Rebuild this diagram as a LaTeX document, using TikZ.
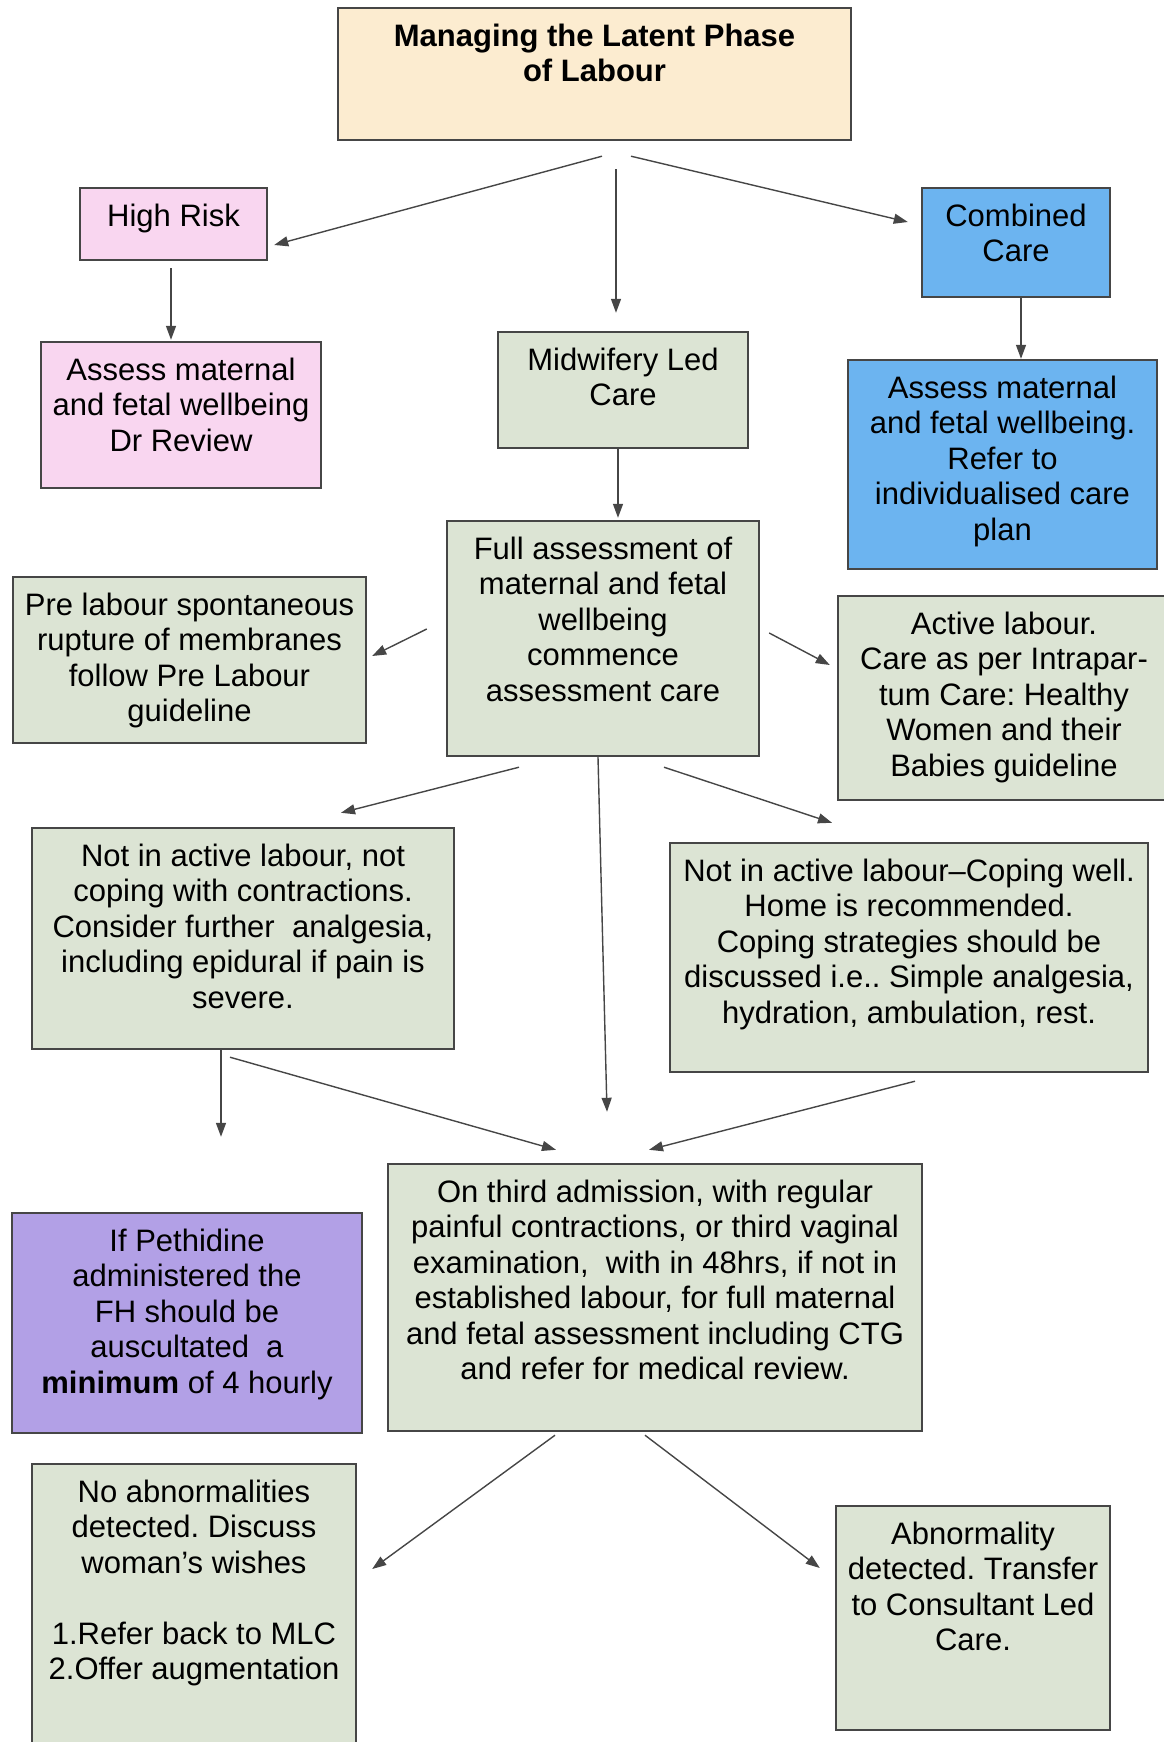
\documentclass[tikz,border=0pt]{standalone}
\usepackage{fontspec}
\setmainfont{Liberation Sans}
\usetikzlibrary{arrows.meta}
\frenchspacing
\definecolor{lppeach}{RGB}{252,236,208}
\definecolor{lppink}{RGB}{249,214,240}
\definecolor{lpblue}{RGB}{108,180,240}
\definecolor{lpgreen}{RGB}{220,228,212}
\definecolor{lppurple}{RGB}{178,160,230}
\definecolor{lpedge}{RGB}{70,70,70}
\tikzset{
  lpbox/.style={draw=lpedge, line width=2.4pt, inner sep=0pt},
  lptitlebox/.style={lpbox, fill=lppeach},
  lppinkbox/.style={lpbox, fill=lppink},
  lpbluebox/.style={lpbox, fill=lpblue},
  lpgreenbox/.style={lpbox, fill=lpgreen},
  lppurplebox/.style={lpbox, fill=lppurple},
  lptext/.style={anchor=north, yshift=-17pt, align=center, inner sep=0pt},
  lpbold/.style={lptext, font=\fontsize{31}{35.5}\selectfont\bfseries},
  lparrow/.style={draw=lpedge, line width=1.4pt, -{Triangle[length=14pt,width=10pt]}},
}
\begin{document}
\begin{tikzpicture}[x=1pt, y=-1pt, font=\fontsize{31}{35.5}\selectfont]
\useasboundingbox (0,0) rectangle (1163,1742);
% boxes, top to bottom
\node[lptitlebox, minimum width=513pt, minimum height=132pt,
  label={[lpbold]north:{Managing the Latent Phase\\of Labour}}] (title) at (594.5,74) {};
\node[lppinkbox, minimum width=187pt, minimum height=72pt,
  label={[lptext]north:{High Risk}}] (risk) at (173.5,224) {};
\node[lpbluebox, minimum width=188pt, minimum height=109pt,
  label={[lptext]north:{Combined\\Care}}] (combined) at (1016,242.5) {};
\node[lppinkbox, minimum width=280pt, minimum height=146pt,
  label={[lptext]north:{Assess maternal\\and fetal wellbeing\\Dr Review}}] (riskassess) at (181,415) {};
\node[lpgreenbox, minimum width=250pt, minimum height=116pt,
  label={[lptext]north:{Midwifery Led\\Care}}] (mlc) at (623,390) {};
\node[lpbluebox, minimum width=309pt, minimum height=209pt,
  label={[lptext]north:{Assess maternal\\and fetal wellbeing.\\Refer to\\individualised care\\plan}}] (combassess) at (1002.5,464.5) {};
\node[lpgreenbox, minimum width=312pt, minimum height=235pt,
  label={[lptext]north:{Full assessment of\\maternal and fetal\\wellbeing\\commence\\assessment care}}] (full) at (603,638.5) {};
\node[lpgreenbox, minimum width=353pt, minimum height=166pt,
  label={[lptext]north:{Pre labour spontaneous\\rupture of membranes\\follow Pre Labour\\guideline}}] (srom) at (189.5,660) {};
\node[lpgreenbox, minimum width=332pt, minimum height=204pt,
  label={[lptext]north:{Active labour.\\Care as per Intrapar-\\tum Care: Healthy\\Women and their\\Babies guideline}}] (active) at (1004,698) {};
\node[lpgreenbox, minimum width=422pt, minimum height=221pt,
  label={[lptext]north:{Not in active labour, not\\coping with contractions.\\Consider further~ analgesia,\\including epidural if pain is\\severe.}}] (notcoping) at (243,938.5) {};
\node[lpgreenbox, minimum width=478pt, minimum height=229pt,
  label={[lptext]north:{Not in active labour--Coping well.\\Home is recommended.\\Coping strategies should be\\discussed i.e.. Simple analgesia,\\hydration, ambulation, rest.}}] (coping) at (909,957.5) {};
\node[lppurplebox, minimum width=350pt, minimum height=220pt,
  label={[lptext]north:{If Pethidine\\administered the\\FH should be\\auscultated~ a\\\textbf{minimum} of 4 hourly}}] (pethidine) at (187,1323) {};
\node[lpgreenbox, minimum width=534pt, minimum height=267pt,
  label={[lptext]north:{On third admission, with regular\\painful contractions, or third vaginal\\examination,~ with in 48hrs, if not in\\established labour, for full maternal\\and fetal assessment including CTG\\and refer for medical review.}}] (third) at (655,1297.5) {};
\node[lpgreenbox, minimum width=324pt, minimum height=288pt,
  label={[lptext]north:{No abnormalities\\detected. Discuss\\woman's wishes\\[35.5pt]1.Refer back to MLC\\2.Offer augmentation}}] (normal) at (194,1608) {};
\node[lpgreenbox, minimum width=274pt, minimum height=224pt,
  label={[lptext]north:{Abnormality\\detected. Transfer\\to Consultant Led\\Care.}}] (abnormal) at (973,1618) {};
% connectors
\draw[lparrow] ([shift={(7.5,15)}]title.south) -- ([shift={(6,21)}]risk.east);
\draw[lparrow] ([shift={(21.5,28)}]title.south) -- ([shift={(-7,-18)}]mlc.north);
\draw[lparrow] ([shift={(36.5,15)}]title.south) -- ([shift={(-13,-20.5)}]combined.west);
\draw[lparrow] ([shift={(-2.5,7)}]risk.south) -- ([shift={(-10,-1)}]riskassess.north);
\draw[lparrow] ([shift={(5,0)}]combined.south) -- ([shift={(18.5,0)}]combassess.north);
\draw[lparrow] ([shift={(-5,0)}]mlc.south) -- ([shift={(15,-2)}]full.north);
\draw[lparrow] ([shift={(-19,-9.5)}]full.west) -- ([shift={(5,-4)}]srom.east);
\draw[lparrow] ([shift={(9,-5.5)}]full.east) -- ([shift={(-7,-33)}]active.west);
\draw[lparrow] ([shift={(-84,10)}]full.south) -- ([shift={(98,-14)}]notcoping.north);
\draw[lparrow] ([shift={(-5,0)}]full.south) -- ([shift={(-48,-51)}]third.north);
\draw[lparrow] ([shift={(61,10)}]full.south) -- ([shift={(-77,-19)}]coping.north);
\draw[lparrow] ([shift={(-22,0)}]notcoping.south) -- ([shift={(34,-75)}]pethidine.north);
\draw[lparrow] ([shift={(-13,7)}]notcoping.south) -- ([shift={(-99,-13)}]third.north);
\draw[lparrow] ([shift={(6,8)}]coping.south) -- ([shift={(-6,-13)}]third.north);
\draw[lparrow] ([shift={(-100,3)}]third.south) -- ([shift={(15,-39)}]normal.east);
\draw[lparrow] ([shift={(-10,3)}]third.south) -- ([shift={(-15,-50)}]abnormal.west);
\end{tikzpicture}
\end{document}
